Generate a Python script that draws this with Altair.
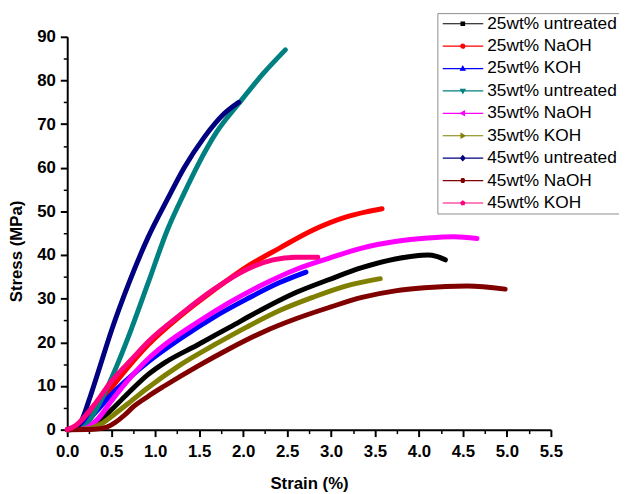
import altair as alt
import pandas as pd

series_names = ["25wt% untreated", "25wt% NaOH", "25wt% KOH",
                "35wt% untreated", "35wt% NaOH", "35wt% KOH",
                "45wt% untreated", "45wt% NaOH", "45wt% KOH"]
series_colors = ["#000000", "#FF0000", "#0000FF", "#008080", "#FF00FF",
                 "#808000", "#000080", "#800000", "#FF0080"]

strain_25_untreated = [0, 0.2, 0.35, 0.5, 0.7, 0.918, 1.105, 1.48, 1.85, 2.23, 2.6, 2.98, 3.35, 3.73, 3.95, 4.1, 4.2, 4.3]
stress_25_untreated = [0, 0.2, 1.8, 4.5, 8.5, 12.6, 15.3, 19.4, 23.5, 27.7, 31.4, 34.4, 37.1, 39.1, 39.8, 40.0, 39.7, 38.9]

strain_25_naoh = [0, 0.12, 0.3, 0.5, 0.7, 0.918, 1.29, 1.67, 2.04, 2.415, 2.79, 3.165, 3.4, 3.58]
stress_25_naoh = [0, 0.5, 4.0, 9.5, 14.5, 19.4, 26.1, 32.0, 37.3, 41.6, 45.7, 48.7, 49.9, 50.6]

strain_25_koh = [0, 0.15, 0.3, 0.5, 0.7, 0.918, 1.29, 1.67, 2.04, 2.415, 2.715]
stress_25_koh = [0, 0.8, 3.5, 8.0, 11.8, 15.5, 20.9, 25.8, 29.9, 33.7, 36.1]

strain_35_untreated = [0, 0.15, 0.19, 0.32, 0.47, 0.6, 0.73, 0.918, 1.14, 1.33, 1.48, 1.7, 1.95, 2.23, 2.48]
stress_35_untreated = [0, 0.2, 0.6, 4.3, 10.3, 16.4, 23.1, 33.5, 45.8, 54.2, 60.4, 68.2, 74.7, 81.6, 87.0]

strain_35_naoh = [0, 0.2, 0.35, 0.5, 0.7, 0.918, 1.105, 1.48, 1.85, 2.23, 2.6, 2.98, 3.35, 3.73, 4.1, 4.4, 4.66]
stress_35_naoh = [0, 0.3, 2.5, 6.5, 11.5, 16.2, 19.4, 24.6, 29.2, 33.3, 36.7, 39.3, 41.6, 43.1, 43.9, 44.2, 43.8]

strain_35_koh = [0, 0.25, 0.4, 0.54, 0.73, 0.918, 1.29, 1.67, 2.04, 2.415, 2.79, 3.165, 3.56]
stress_35_koh = [0, 0.2, 1.5, 3.6, 6.6, 9.6, 14.9, 19.4, 23.5, 27.3, 30.3, 32.9, 34.6]

strain_45_untreated = [0, 0.1, 0.17, 0.245, 0.355, 0.51, 0.7, 0.918, 1.14, 1.33, 1.555, 1.78, 1.95]
stress_45_untreated = [0, 0.3, 2.4, 6.6, 13.4, 23.1, 33.5, 44.0, 52.8, 60.0, 66.9, 72.3, 75.0]

strain_45_naoh = [0, 0.3, 0.45, 0.55, 0.65, 0.75, 0.918, 1.105, 1.48, 1.85, 2.23, 2.6, 2.98, 3.35, 3.73, 4.06, 4.55, 4.98]
stress_45_naoh = [0, 0.1, 0.6, 1.7, 3.3, 5.2, 7.6, 10.0, 14.5, 18.6, 22.4, 25.4, 28.0, 30.3, 31.8, 32.5, 32.9, 32.2]

strain_45_koh = [0, 0.1, 0.3, 0.5, 0.75, 0.918, 1.29, 1.67, 2.04, 2.34, 2.6, 2.85]
stress_45_koh = [0, 1.0, 5.5, 11.0, 16.5, 20.1, 26.4, 32.2, 36.7, 38.9, 39.5, 39.5]

x_tick_values = [i * 0.25 for i in range(23)]
y_tick_values = [i * 5 for i in range(19)]

# legend symbols: short line with a small marker in the middle
legend_shapes = [
    "M-1.06,0H7.14M2.65,-0.35H3.35V0.35H2.65Z",
    "M-1.06,0H7.14M2.6,0A0.4,0.4 0 1,0 3.4,0A0.4,0.4 0 1,0 2.6,0Z",
    "M-1.06,0H7.14M3,-0.45L3.45,0.35H2.55Z",
    "M-1.06,0H7.14M3,0.45L3.45,-0.35H2.55Z",
    "M-1.06,0H7.14M2.55,0L3.35,-0.45V0.45Z",
    "M-1.06,0H7.14M3.45,0L2.65,-0.45V0.45Z",
    "M-1.06,0H7.14M3,-0.5L3.45,0L3,0.5L2.55,0Z",
    "M-1.06,0H7.14M2.6,0L2.8,-0.38H3.2L3.4,0L3.2,0.38H2.8Z",
    "M-1.06,0H7.14M3,-0.42L3.4,-0.12L3.25,0.35H2.75L2.6,-0.12Z",
]

strains = [strain_25_untreated, strain_25_naoh, strain_25_koh,
           strain_35_untreated, strain_35_naoh, strain_35_koh,
           strain_45_untreated, strain_45_naoh, strain_45_koh]
stresses = [stress_25_untreated, stress_25_naoh, stress_25_koh,
            stress_35_untreated, stress_35_naoh, stress_35_koh,
            stress_45_untreated, stress_45_naoh, stress_45_koh]

rows = []
for name, xs, ys in zip(series_names, strains, stresses):
    for i, (xv, yv) in enumerate(zip(xs, ys)):
        rows.append({"series": name, "strain": xv, "stress": yv, "idx": i})
df = pd.DataFrame(rows)

FONT = "Liberation Sans, Arial, sans-serif"

x_axis = alt.Axis(
    values=x_tick_values,
    labelExpr="datum.value % 0.5 === 0 ? format(datum.value, '.1f') : ''",
    title="Strain (%)",
    tickSize={"condition": {"test": "datum.value % 0.5 === 0", "value": 7}, "value": 4},
    tickWidth={"condition": {"test": "datum.value % 0.5 === 0", "value": 2}, "value": 1.5},
    labelPadding=7,
    labelFlush=False,
    labelOverlap=False,
    titleY=55,
    titleBaseline="middle",
)
y_axis = alt.Axis(
    values=y_tick_values,
    labelExpr="datum.value % 10 === 0 ? format(datum.value, 'd') : ''",
    title="Stress (MPa)",
    tickSize={"condition": {"test": "datum.value % 10 === 0", "value": 7}, "value": 4},
    tickWidth={"condition": {"test": "datum.value % 10 === 0", "value": 2}, "value": 1.5},
    labelPadding=5,
    labelFlush=False,
    labelOverlap=False,
    titleX=-51,
    titleY=217,
    titleBaseline="middle",
)

x_enc = alt.X("strain:Q", scale=alt.Scale(domain=[0, 5.5], nice=False), axis=x_axis)
y_enc = alt.Y("stress:Q", scale=alt.Scale(domain=[0, 90], nice=False), axis=y_axis)

leg = alt.Legend(
    title=None,
    orient="none",
    legendX=375,
    legendY=-24,
    labelFont=FONT,
    labelFontSize=17.5,
    labelColor="#000000",
    labelOffset=31,
    labelExpr="datum.label + '   '",
    labelLimit=300,
    symbolSize=100,
    symbolStrokeWidth=1.2,
    symbolOpacity=1,
    rowPadding=3.7,
    padding=2,
    strokeColor="#8c8c8c",
    fillColor="#ffffff",
)

# invisible markers that only carry the legend (line + marker symbols)
markers = alt.Chart(df).mark_point(filled=True, opacity=0, strokeWidth=1.2).encode(
    x=x_enc,
    y=y_enc,
    fill=alt.Fill("series:N", scale=alt.Scale(domain=series_names, range=series_colors), legend=leg),
    stroke=alt.Stroke("series:N", scale=alt.Scale(domain=series_names, range=series_colors), legend=leg),
    shape=alt.Shape("series:N", scale=alt.Scale(domain=series_names, range=legend_shapes), legend=leg),
)

lines = alt.Chart(df).mark_line(strokeWidth=5, interpolate="monotone", strokeCap="round").encode(
    x=x_enc,
    y=y_enc,
    color=alt.Color("series:N", scale=alt.Scale(domain=series_names, range=series_colors), legend=None),
    detail="series:N",
    order="idx:Q",
)

chart = alt.layer(markers, lines).properties(
    width=490,
    height=398,
    padding={"left": 60, "top": 26, "right": 69, "bottom": 62},
    autosize=alt.AutoSizeParams(type="none"),
).configure_view(strokeWidth=0).configure_axis(
    grid=False,
    domainColor="#000000",
    domainWidth=2,
    tickColor="#000000",
    labelColor="#000000",
    titleColor="#000000",
    labelFont=FONT,
    titleFont=FONT,
    labelFontSize=17,
    labelFontWeight="bold",
    titleFontSize=17,
    titleFontWeight="bold",
)

chart.save("out.html", embed_options={"renderer": "svg", "actions": False})
